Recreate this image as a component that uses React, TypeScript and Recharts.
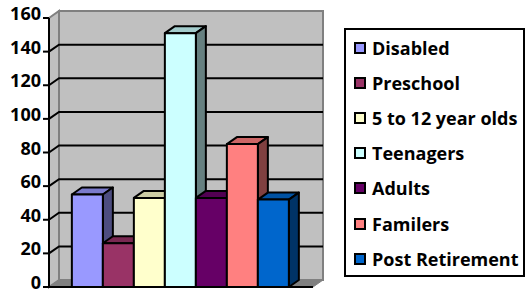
import { Bar, BarChart, Legend, ReferenceArea, XAxis, YAxis } from "recharts";

// one category, seven series
const categories = ["Groups"];
const seriesNames = [
  "Disabled",
  "Preschool",
  "5 to 12 year olds",
  "Teenagers",
  "Adults",
  "Familers",
  "Post Retirement",
];
const seriesValues = [55, 26, 53, 151, 53, 85, 52];
const seriesColors = ["#9999ff", "#993366", "#ffffcc", "#ccffff", "#660066", "#ff8080", "#0066cc"];
const yTicks = [0, 20, 40, 60, 80, 100, 120, 140, 160];

const FONT = '"Open Sans", "Liberation Sans", Arial, sans-serif';
const DEPTH_X = 10;
const DEPTH_Y = 7;

const data = categories.map((name) => {
  const row: Record<string, string | number> = { name };
  seriesValues.forEach((v, i) => {
    row[`s${i}`] = v;
  });
  return row;
});

function shade(hex: string, k: number): string {
  const n = parseInt(hex.slice(1), 16);
  const r = Math.round(((n >> 16) & 255) * k);
  const g = Math.round(((n >> 8) & 255) * k);
  const b = Math.round((n & 255) * k);
  return `rgb(${r},${g},${b})`;
}

function Box3D(props: any) {
  const { x, y, width, height, fill } = props;
  if (height == null || width == null) return null;
  const x2 = x + width;
  const y2 = y + height;
  return (
    <g stroke="#000" strokeWidth={2} strokeLinejoin="round">
      <polygon
        points={`${x},${y} ${x + DEPTH_X},${y - DEPTH_Y} ${x2 + DEPTH_X},${y - DEPTH_Y} ${x2},${y}`}
        fill={shade(fill, 0.8)}
      />
      <polygon
        points={`${x2},${y} ${x2 + DEPTH_X},${y - DEPTH_Y} ${x2 + DEPTH_X},${y2 - DEPTH_Y} ${x2},${y2}`}
        fill={shade(fill, 0.5)}
      />
      <rect x={x} y={y} width={width} height={height} fill={fill} />
    </g>
  );
}

// back wall, side wall, floor and gridlines, from the plot rectangle
function Walls(props: any) {
  const { x, y, width, height } = props;
  const yMax = yTicks[yTicks.length - 1];
  const bottom = y + height;
  const inner = yTicks.filter((t) => t > 0 && t < yMax);
  return (
    <g>
      <rect
        x={x + DEPTH_X}
        y={y - DEPTH_Y}
        width={width}
        height={height}
        fill="#c0c0c0"
        stroke="#808080"
        strokeWidth={2}
      />
      <polygon
        points={`${x},${y} ${x + DEPTH_X},${y - DEPTH_Y} ${x + DEPTH_X},${bottom - DEPTH_Y} ${x},${bottom}`}
        fill="#c0c0c0"
        stroke="#808080"
        strokeWidth={2}
      />
      <polygon
        points={`${x},${bottom} ${x + DEPTH_X},${bottom - DEPTH_Y} ${x + width + DEPTH_X},${bottom - DEPTH_Y} ${x + width},${bottom}`}
        fill="#808080"
        stroke="#808080"
        strokeWidth={1}
      />
      {inner.map((t) => {
        const ty = y + height * (1 - t / yMax);
        return (
          <polyline
            key={t}
            points={`${x},${ty} ${x + DEPTH_X},${ty - DEPTH_Y} ${x + width + DEPTH_X},${ty - DEPTH_Y}`}
            fill="none"
            stroke="#000"
            strokeWidth={2}
          />
        );
      })}
      <line x1={x} y1={bottom} x2={x + width} y2={bottom} stroke="#000" strokeWidth={2} />
    </g>
  );
}

function YTick({ x, y, payload }: any) {
  return (
    <text
      x={x}
      y={y}
      dy={2}
      textAnchor="end"
      fontFamily={FONT}
      fontWeight="bold"
      fontSize={18}
      fill="#000"
    >
      {payload.value}
    </text>
  );
}

function LegendBox() {
  return (
    <div
      style={{
        boxSizing: "border-box",
        width: 181,
        height: 249,
        border: "2px solid #000",
        background: "#fff",
        fontFamily: FONT,
        fontWeight: "bold",
        fontSize: 18,
        color: "#000",
      }}
    >
      {seriesNames.map((name, i) => (
        <div
          key={name}
          style={{ display: "flex", alignItems: "center", height: 35.2, whiteSpace: "nowrap" }}
        >
          <span
            style={{
              boxSizing: "border-box",
              display: "inline-block",
              width: 12,
              height: 12,
              marginLeft: 8,
              marginRight: 6,
              border: "2px solid #000",
              background: seriesColors[i],
            }}
          />
          <span>{name}</span>
        </div>
      ))}
    </div>
  );
}

export default function App() {
  return (
    <div style={{ position: "absolute", left: 0, top: 0, width: 527, height: 291, background: "#fff" }}>
      <BarChart
        width={527}
        height={291}
        data={data}
        margin={{ top: 18, right: 214, bottom: 4, left: 0 }}
        barCategoryGap="8.66%"
        barGap={0}
      >
        <ReferenceArea y1={0} y2={160} shape={<Walls />} />
        <XAxis dataKey="name" hide />
        <YAxis
          width={49}
          domain={[0, 160]}
          ticks={yTicks}
          interval={0}
          tickSize={6}
          tick={<YTick />}
          axisLine={{ stroke: "#000", strokeWidth: 2 }}
          tickLine={{ stroke: "#000", strokeWidth: 2 }}
        />
        <Legend
          layout="vertical"
          align="center"
          verticalAlign="middle"
          content={<LegendBox />}
          wrapperStyle={{ position: "absolute", left: 344, top: 28, width: 181, height: 249 }}
        />
        {seriesNames.map((name, i) => (
          <Bar
            key={name}
            dataKey={`s${i}`}
            name={name}
            fill={seriesColors[i]}
            shape={<Box3D />}
            isAnimationActive={false}
          />
        ))}
      </BarChart>
    </div>
  );
}
